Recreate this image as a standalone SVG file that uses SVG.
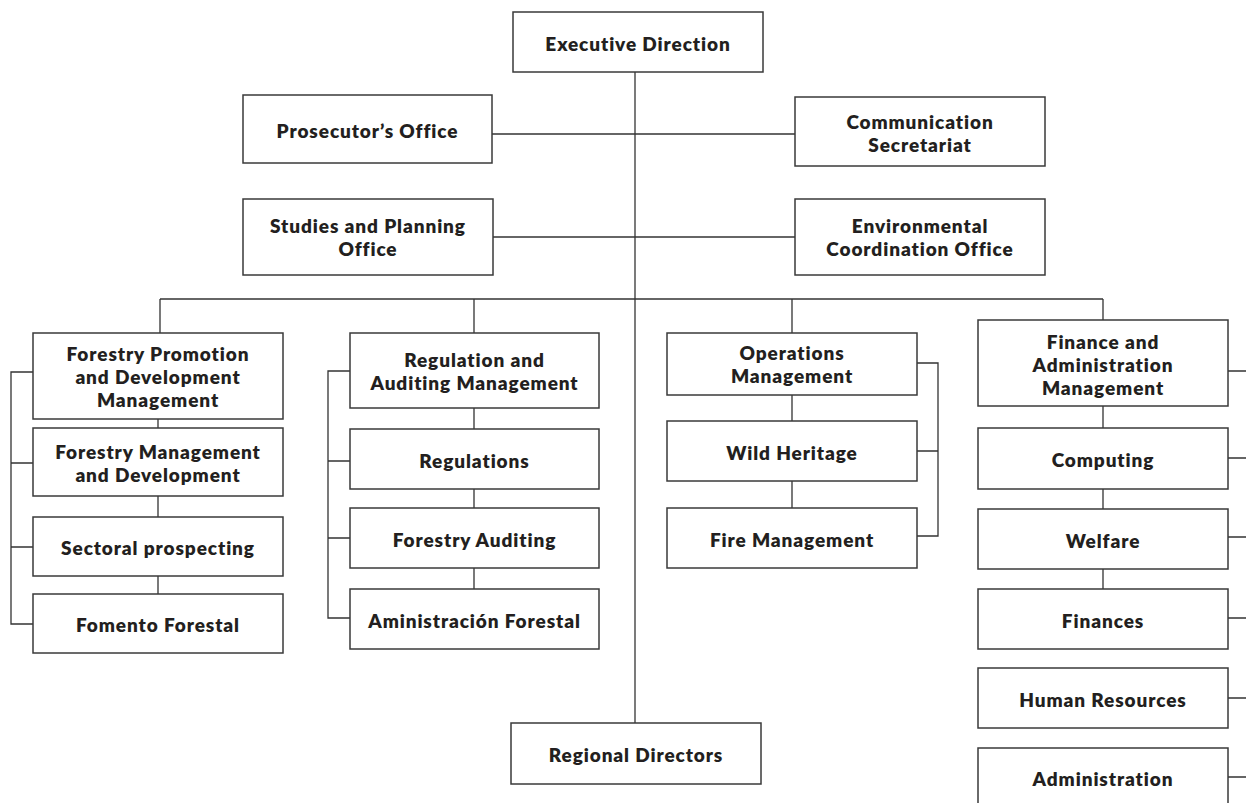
<svg xmlns="http://www.w3.org/2000/svg" width="1246" height="803" viewBox="0 0 1246 803">
  <style>
    .box { fill: #ffffff; stroke: #3a3a3a; stroke-width: 1.5; }
    .lbl { font-family: Lato, "Open Sans", "Liberation Sans", sans-serif; font-weight: 800; font-size: 19px; letter-spacing: 0.9px; fill: #231f20; text-anchor: middle; }
    .wire { fill: none; stroke: #333333; stroke-width: 1.3; }
  </style>
  <rect width="1246" height="803" fill="#ffffff"/>

  <!-- connectors -->
  <g id="connectors" class="wire">
    <path d="M635 72 V723"/>
    <path d="M492 134 H795"/>
    <path d="M493 237 H795"/>
    <path d="M160 299 H1103"/>
    <path d="M160 299 V333 M474 299 V333 M792 299 V333 M1103 299 V320"/>
    <!-- column 1 -->
    <path d="M158 419 V428 M158 496 V517 M158 576 V594"/>
    <path d="M33 372 H11 V624 H33 M11 463 H33 M11 547 H33"/>
    <!-- column 2 -->
    <path d="M474 408 V429 M474 489 V508 M474 568 V589"/>
    <path d="M350 371 H328 V618 H350 M328 461 H350 M328 538 H350"/>
    <!-- column 3 -->
    <path d="M792 395 V421 M792 481 V508"/>
    <path d="M917 363 H938 V536 H917 M917 451 H938"/>
    <!-- column 4 -->
    <path d="M1103 406 V428 M1103 489 V509 M1103 569 V589"/>
    <path d="M1228 371 H1246 M1228 458 H1246 M1228 537 H1246 M1228 618 H1246 M1228 698 H1246 M1228 777 H1246"/>
  </g>

  <g id="executive-direction">
    <rect class="box" x="513" y="12" width="250" height="60"/>
    <text class="lbl" x="638" y="50.5">Executive Direction</text>
  </g>
  <g id="prosecutors-office">
    <rect class="box" x="243" y="95" width="249" height="68"/>
    <text class="lbl" x="367.5" y="137.5">Prosecutor’s Office</text>
  </g>
  <g id="communication-secretariat">
    <rect class="box" x="795" y="97" width="250" height="69"/>
    <text class="lbl" x="920" y="128.5">Communication</text>
    <text class="lbl" x="920" y="151.5">Secretariat</text>
  </g>
  <g id="studies-planning">
    <rect class="box" x="243" y="199" width="250" height="76"/>
    <text class="lbl" x="368" y="233">Studies and Planning</text>
    <text class="lbl" x="368" y="256">Office</text>
  </g>
  <g id="environmental-coordination">
    <rect class="box" x="795" y="199" width="250" height="76"/>
    <text class="lbl" x="920" y="233">Environmental</text>
    <text class="lbl" x="920" y="256">Coordination Office</text>
  </g>

  <!-- column 1 -->
  <g id="forestry-promotion">
    <rect class="box" x="33" y="333" width="250" height="86"/>
    <text class="lbl" x="158" y="361">Forestry Promotion</text>
    <text class="lbl" x="158" y="384">and Development</text>
    <text class="lbl" x="158" y="407">Management</text>
  </g>
  <g id="forestry-management">
    <rect class="box" x="33" y="428" width="250" height="68"/>
    <text class="lbl" x="158" y="459">Forestry Management</text>
    <text class="lbl" x="158" y="482">and Development</text>
  </g>
  <g id="sectoral-prospecting">
    <rect class="box" x="33" y="517" width="250" height="59"/>
    <text class="lbl" x="158" y="555">Sectoral prospecting</text>
  </g>
  <g id="fomento-forestal">
    <rect class="box" x="33" y="594" width="250" height="59"/>
    <text class="lbl" x="158" y="632">Fomento Forestal</text>
  </g>

  <!-- column 2 -->
  <g id="regulation-auditing">
    <rect class="box" x="350" y="333" width="249" height="75"/>
    <text class="lbl" x="474.5" y="367">Regulation and</text>
    <text class="lbl" x="474.5" y="390">Auditing Management</text>
  </g>
  <g id="regulations">
    <rect class="box" x="350" y="429" width="249" height="60"/>
    <text class="lbl" x="474.5" y="467.5">Regulations</text>
  </g>
  <g id="forestry-auditing">
    <rect class="box" x="350" y="508" width="249" height="60"/>
    <text class="lbl" x="474.5" y="546.5">Forestry Auditing</text>
  </g>
  <g id="administracion-forestal">
    <rect class="box" x="350" y="589" width="249" height="60"/>
    <text class="lbl" x="474.5" y="627.5">Aministración Forestal</text>
  </g>

  <!-- column 3 -->
  <g id="operations-management">
    <rect class="box" x="667" y="333" width="250" height="62"/>
    <text class="lbl" x="792" y="360">Operations</text>
    <text class="lbl" x="792" y="383">Management</text>
  </g>
  <g id="wild-heritage">
    <rect class="box" x="667" y="421" width="250" height="60"/>
    <text class="lbl" x="792" y="459.5">Wild Heritage</text>
  </g>
  <g id="fire-management">
    <rect class="box" x="667" y="508" width="250" height="60"/>
    <text class="lbl" x="792" y="546.5">Fire Management</text>
  </g>

  <!-- column 4 -->
  <g id="finance-administration">
    <rect class="box" x="978" y="320" width="250" height="86"/>
    <text class="lbl" x="1103" y="348.5">Finance and</text>
    <text class="lbl" x="1103" y="371.5">Administration</text>
    <text class="lbl" x="1103" y="394.5">Management</text>
  </g>
  <g id="computing">
    <rect class="box" x="978" y="428" width="250" height="61"/>
    <text class="lbl" x="1103" y="467">Computing</text>
  </g>
  <g id="welfare">
    <rect class="box" x="978" y="509" width="250" height="60"/>
    <text class="lbl" x="1103" y="547.5">Welfare</text>
  </g>
  <g id="finances">
    <rect class="box" x="978" y="589" width="250" height="60"/>
    <text class="lbl" x="1103" y="627.5">Finances</text>
  </g>
  <g id="human-resources">
    <rect class="box" x="978" y="668" width="250" height="60"/>
    <text class="lbl" x="1103" y="706.5">Human Resources</text>
  </g>
  <g id="administration">
    <rect class="box" x="978" y="748" width="250" height="62"/>
    <text class="lbl" x="1103" y="786">Administration</text>
  </g>

  <g id="regional-directors">
    <rect class="box" x="511" y="723" width="250" height="61"/>
    <text class="lbl" x="636" y="762">Regional Directors</text>
  </g>
</svg>
